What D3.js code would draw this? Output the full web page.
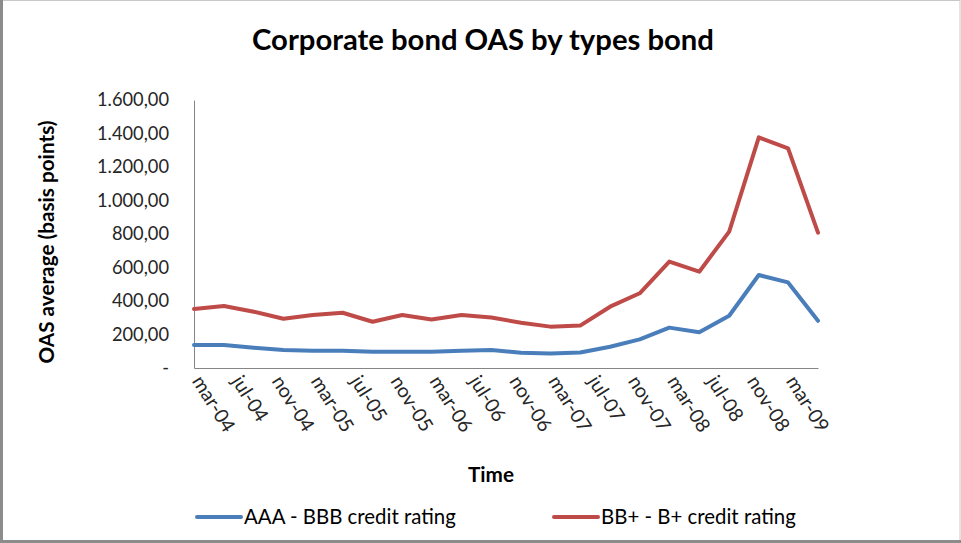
<!DOCTYPE html>
<html>
<head>
<meta charset="utf-8">
<script src="https://cdn.jsdelivr.net/npm/d3@7"></script>
<style>
  html, body { margin: 0; padding: 0; background: #fff; }
  svg { display: block; }
</style>
</head>
<body>
<svg id="chart" width="961" height="543"></svg>
<script>
// ---- data ----
const dates = ["2004-03","2004-06","2004-09","2004-12","2005-03","2005-06","2005-09","2005-12",
  "2006-03","2006-06","2006-09","2006-12","2007-03","2007-06","2007-09","2007-12",
  "2008-03","2008-06","2008-09","2008-12","2009-03","2009-06"];
const aaaBbb = [137,137,121,107,103,103,97,97,97,103,107,91,87,93,127,171,241,213,312,555,511,282];
const bbB = [352,370,336,294,316,330,276,316,290,316,302,270,247,253,366,446,635,575,814,1377,1311,808];
const tickDates = ["2004-03","2004-07","2004-11","2005-03","2005-07","2005-11","2006-03","2006-07",
  "2006-11","2007-03","2007-07","2007-11","2008-03","2008-07","2008-11","2009-03"];
const tickLabels = ["mar-04","jul-04","nov-04","mar-05","jul-05","nov-05","mar-06","jul-06",
  "nov-06","mar-07","jul-07","nov-07","mar-08","jul-08","nov-08","mar-09"];
const yTicks = [0,200,400,600,800,1000,1200,1400,1600];
const seriesNames = ["AAA - BBB credit rating","BB+ - B+ credit rating"];
const seriesColors = ["#4A7EBB","#BE4B48"];

(function () {
const FONT = "Lato, 'Open Sans', sans-serif";
const svg = d3.select("#chart");
const parse = d3.utcParse("%Y-%m");

function fitSize(str, weight, target) {
  const t = svg.append("text").attr("font-family", FONT).attr("font-weight", weight)
    .attr("font-size", 100).text(str);
  const w = t.node().getComputedTextLength();
  t.remove();
  return 100 * target / w;
}

// frame
svg.append("rect").attr("x",0.5).attr("y",0.5).attr("width",959.5).attr("height",541)
  .attr("fill","#fff").attr("stroke","#c8c8c8").attr("stroke-width",1);
svg.append("rect").attr("x",0).attr("y",0).attr("width",3).attr("height",543).attr("fill","#8c8c8c");
svg.append("rect").attr("x",0).attr("y",540).attr("width",961).attr("height",3).attr("fill","#8c8c8c");

const pL = 194, pR = 818, pT = 100, pB = 368;
const x = d3.scaleUtc().domain([parse(dates[0]), parse(dates[dates.length-1])]).range([pL, pR]);
const y = d3.scaleLinear().domain([0, 1600]).range([pB, pT]);

// title
const titleStr = "Corporate bond OAS by types bond";
svg.append("text").attr("x", 483).attr("y", 50).attr("text-anchor","middle")
  .attr("font-family", FONT).attr("font-weight", 700)
  .attr("font-size", fitSize(titleStr, 700, 462)).attr("fill","#000").text(titleStr);

// y axis
const loc = d3.formatLocale({decimal: ",", thousands: ".", grouping: [3], currency: ["", ""]});
const fmt = loc.format(",.2f");
const tickFs = fitSize("1.600,00", 400, 72);
const yAxis = d3.axisLeft(y).tickValues(yTicks).tickSize(0).tickPadding(25)
  .tickFormat(d => d === 0 ? "-" : fmt(d));
const gy = svg.append("g").attr("transform", `translate(${pL},0)`).call(yAxis);
gy.select(".domain").attr("stroke","#868686").attr("stroke-width",1);
gy.selectAll("text").attr("font-family", FONT).attr("font-size", tickFs).attr("fill","#262626");

// x axis
const xAxis = d3.axisBottom(x).tickValues(tickDates.map(parse)).tickSize(0)
  .tickFormat((d, i) => tickLabels[i]);
const gx = svg.append("g").attr("transform", `translate(0,${pB})`).call(xAxis);
gx.select(".domain").attr("stroke","#868686").attr("stroke-width",1);
gx.selectAll("text").attr("font-family", FONT).attr("font-size", tickFs * 1.07).attr("fill","#262626")
  .attr("text-anchor","start").attr("dy", null).attr("y", 0)
  .attr("transform", "translate(-3,13) rotate(58)");

// axis titles
const yTitle = "OAS average (basis points)";
svg.append("text").attr("transform", "translate(54,242) rotate(-90)").attr("text-anchor","middle")
  .attr("font-family", FONT).attr("font-weight", 700)
  .attr("font-size", fitSize(yTitle, 700, 243)).attr("fill","#000").text(yTitle);
svg.append("text").attr("x", 491).attr("y", 482).attr("text-anchor","middle")
  .attr("font-family", FONT).attr("font-weight", 700)
  .attr("font-size", fitSize("Time", 700, 46)).attr("fill","#000").text("Time");

// lines
const line = d3.line().x((d, i) => x(parse(dates[i]))).y(d => y(d));
[aaaBbb, bbB].forEach((s, k) => {
  svg.append("path").datum(s).attr("d", line).attr("fill","none")
    .attr("stroke", seriesColors[k]).attr("stroke-width", 4)
    .attr("stroke-linejoin","round").attr("stroke-linecap","round");
});

// legend
const legFs = fitSize(seriesNames[0], 400, 212);
const legX = [197, 554];
seriesNames.forEach((n, k) => {
  const g = svg.append("g").attr("transform", `translate(${legX[k]},517)`);
  g.append("line").attr("x1",0).attr("x2",44).attr("y1",0).attr("y2",0)
    .attr("stroke", seriesColors[k]).attr("stroke-width",4).attr("stroke-linecap","round");
  g.append("text").attr("x",47).attr("y",0).attr("dy","0.35em")
    .attr("font-family", FONT).attr("font-size", legFs).attr("fill","#000").text(n);
});
})();
</script>
</body>
</html>
